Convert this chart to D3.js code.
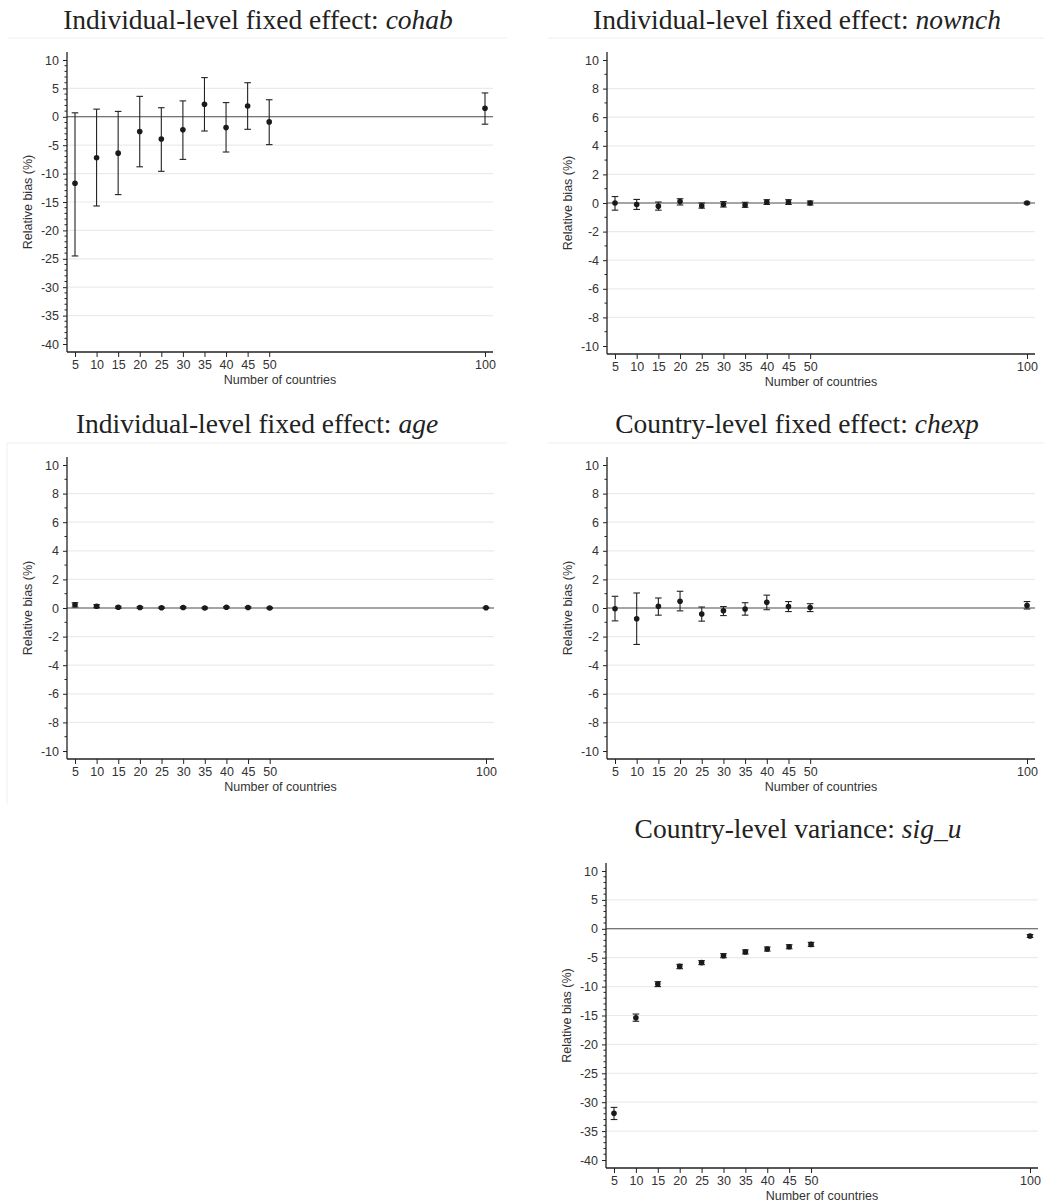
<!DOCTYPE html>
<html>
<head>
<meta charset="utf-8">
<script src="https://cdn.jsdelivr.net/npm/d3@7"></script>
<style>
  body { margin: 0; background: #fff; }
  svg { display: block; }
</style>
</head>
<body>
<div id="chart"></div>
<script>
// number of countries (x values)
const countries = [5, 10, 15, 20, 25, 30, 35, 40, 45, 50, 100];

// relative bias (%) estimates with lower / upper bounds
const cohabEst = [-11.7, -7.2, -6.4, -2.6, -3.9, -2.3, 2.2, -1.9, 1.9, -0.9, 1.5];
const cohabLo  = [-24.5, -15.7, -13.7, -8.8, -9.6, -7.5, -2.5, -6.2, -2.2, -4.9, -1.3];
const cohabHi  = [0.7, 1.35, 0.95, 3.6, 1.6, 2.8, 6.9, 2.5, 6.0, 3.0, 4.2];

const nownchEst = [0.0, -0.1, -0.22, 0.1, -0.2, -0.1, -0.14, 0.07, 0.07, 0.0, 0.0];
const nownchLo  = [-0.5, -0.45, -0.5, -0.14, -0.36, -0.28, -0.3, -0.1, -0.1, -0.14, -0.07];
const nownchHi  = [0.45, 0.25, 0.07, 0.3, 0.0, 0.1, 0.05, 0.23, 0.23, 0.14, 0.07];

const ageEst = [0.23, 0.12, 0.05, 0.04, 0.02, 0.04, 0.0, 0.05, 0.04, 0.0, 0.02];
const ageLo  = [0.07, 0.02, -0.02, -0.02, -0.03, -0.01, -0.05, 0.0, -0.01, -0.04, -0.01];
const ageHi  = [0.37, 0.23, 0.12, 0.1, 0.07, 0.09, 0.05, 0.1, 0.09, 0.04, 0.05];

const chexpEst = [-0.05, -0.75, 0.12, 0.47, -0.42, -0.2, -0.07, 0.4, 0.1, 0.03, 0.18];
const chexpLo  = [-0.9, -2.55, -0.5, -0.2, -0.92, -0.53, -0.5, -0.12, -0.25, -0.25, -0.07];
const chexpHi  = [0.82, 1.05, 0.7, 1.17, 0.07, 0.1, 0.37, 0.9, 0.45, 0.3, 0.45];

const siguEst = [-31.9, -15.4, -9.55, -6.5, -5.85, -4.65, -4.0, -3.5, -3.1, -2.7, -1.25];
const siguLo  = [-33.0, -16.0, -10.0, -6.9, -6.2, -5.0, -4.35, -3.85, -3.45, -3.05, -1.5];
const siguHi  = [-30.9, -14.75, -9.15, -6.15, -5.5, -4.3, -3.65, -3.15, -2.75, -2.35, -1.0];

const wideTicks = [-40, -35, -30, -25, -20, -15, -10, -5, 0, 5, 10];
const narrowTicks = [-10, -8, -6, -4, -2, 0, 2, 4, 6, 8, 10];

const width = 1044, height = 1203;

const panels = [
  { lead: 'Individual-level fixed effect: ', name: 'cohab', est: cohabEst, lo: cohabLo, hi: cohabHi,
    ticks: wideTicks, box: [67, 493, 52, 352], titleX: 258, titleY: 29, rule: [8, 507, 38] },
  { lead: 'Individual-level fixed effect: ', name: 'nownch', est: nownchEst, lo: nownchLo, hi: nownchHi,
    ticks: narrowTicks, box: [607, 1035, 52, 354], titleX: 797, titleY: 29, rule: [548, 1044, 38] },
  { lead: 'Individual-level fixed effect: ', name: 'age', est: ageEst, lo: ageLo, hi: ageHi,
    ticks: narrowTicks, box: [67, 494, 457, 759], titleX: 257, titleY: 433, rule: [7, 507, 443], leftRule: true },
  { lead: 'Country-level fixed effect: ', name: 'chexp', est: chexpEst, lo: chexpLo, hi: chexpHi,
    ticks: narrowTicks, box: [607, 1035, 457, 759], titleX: 797, titleY: 433, rule: [548, 1044, 443] },
  { lead: 'Country-level variance: ', name: 'sig_u', est: siguEst, lo: siguLo, hi: siguHi,
    ticks: wideTicks, box: [606, 1038, 863, 1168], titleX: 798, titleY: 838 }
];

const svg = d3.select('#chart').append('svg')
  .attr('width', width)
  .attr('height', height);

const ink = '#222';
const sans = 'Liberation Sans, Arial, sans-serif';

panels.forEach(p => {
  const [x0, x1, y0, y1] = p.box;
  const pad = 8;

  const x = d3.scaleLinear().domain([5, 100]).range([x0 + pad, x1 - pad]);
  const y = d3.scaleLinear()
    .domain([d3.min(p.ticks), d3.max(p.ticks)])
    .range([y1 - pad, y0 + pad]);
  const step = p.ticks[1] - p.ticks[0];

  const g = svg.append('g');

  // faint region rule under the title
  if (p.rule) {
    g.append('line')
      .attr('x1', p.rule[0]).attr('x2', p.rule[1])
      .attr('y1', p.rule[2]).attr('y2', p.rule[2])
      .attr('stroke', '#eeeeee');
    if (p.leftRule) {
      g.append('line')
        .attr('x1', p.rule[0]).attr('x2', p.rule[0])
        .attr('y1', p.rule[2]).attr('y2', y1 + 45)
        .attr('stroke', '#f0f0f0');
    }
  }

  // title
  const t = g.append('text')
    .attr('x', p.titleX).attr('y', p.titleY)
    .attr('text-anchor', 'middle')
    .style('font-family', 'Liberation Serif, Times New Roman, serif')
    .style('font-size', '27.5px')
    .attr('fill', ink);
  t.append('tspan').text(p.lead);
  t.append('tspan').style('font-style', 'italic').text(p.name);

  // gridlines (skip extremes and zero)
  const lo = d3.min(p.ticks), hi = d3.max(p.ticks);
  g.append('g').selectAll('line')
    .data(p.ticks.filter(v => v !== lo && v !== hi && v !== 0))
    .enter().append('line')
    .attr('x1', x0).attr('x2', x1)
    .attr('y1', d => y(d)).attr('y2', d => y(d))
    .attr('stroke', '#ebebeb')
    .attr('stroke-width', 1.2);

  // zero reference line
  g.append('line')
    .attr('x1', x0).attr('x2', x1)
    .attr('y1', y(0)).attr('y2', y(0))
    .attr('stroke', '#4a4a4a')
    .attr('stroke-width', 1.1);

  // minor y ticks
  const minor = d3.range(lo, hi + 0.001, 1).filter(v => (v - lo) % step !== 0);
  g.append('g').selectAll('line')
    .data(minor)
    .enter().append('line')
    .attr('x1', x0 - 2.5).attr('x2', x0)
    .attr('y1', d => y(d)).attr('y2', d => y(d))
    .attr('stroke', ink);

  // plain hyphen-minus labels, as in the original
  const fmt = d => String(d);

  // y axis
  const yAxis = g.append('g')
    .attr('transform', 'translate(' + x0 + ',0)')
    .call(d3.axisLeft(y).tickValues(p.ticks).tickSize(4).tickPadding(4).tickFormat(fmt));
  yAxis.select('.domain').attr('d', 'M0,' + y0 + 'V' + y1);

  // x axis
  const xAxis = g.append('g')
    .attr('transform', 'translate(0,' + y1 + ')')
    .call(d3.axisBottom(x).tickValues(countries).tickSize(5).tickPadding(3).tickFormat(fmt));
  xAxis.select('.domain').attr('d', 'M' + x0 + ',0H' + x1);

  [yAxis, xAxis].forEach(a => {
    a.select('.domain').attr('stroke', ink).attr('stroke-width', 1.3);
    a.selectAll('.tick line').attr('stroke', ink);
    a.selectAll('.tick text')
      .style('font-family', sans)
      .style('font-size', '12.5px')
      .attr('fill', '#333');
  });

  // axis titles
  g.append('text')
    .attr('transform', 'translate(' + (x0 - 35) + ',' + ((y0 + y1) / 2) + ') rotate(-90)')
    .attr('text-anchor', 'middle')
    .style('font-family', sans)
    .style('font-size', '12.5px')
    .attr('fill', '#333')
    .text('Relative bias (%)');

  g.append('text')
    .attr('x', (x0 + x1) / 2).attr('y', y1 + 32)
    .attr('text-anchor', 'middle')
    .style('font-family', sans)
    .style('font-size', '12.5px')
    .attr('fill', '#333')
    .text('Number of countries');

  // error bars
  const rows = countries.map((c, i) => ({ c: c, est: p.est[i], lo: p.lo[i], hi: p.hi[i] }));
  const bars = g.append('g').selectAll('g')
    .data(rows)
    .enter().append('g')
    .attr('stroke', ink)
    .attr('stroke-width', 1.1);
  bars.append('line')
    .attr('x1', d => x(d.c)).attr('x2', d => x(d.c))
    .attr('y1', d => y(d.lo)).attr('y2', d => y(d.hi));
  bars.append('line')
    .attr('x1', d => x(d.c) - 3.3).attr('x2', d => x(d.c) + 3.3)
    .attr('y1', d => y(d.hi)).attr('y2', d => y(d.hi));
  bars.append('line')
    .attr('x1', d => x(d.c) - 3.3).attr('x2', d => x(d.c) + 3.3)
    .attr('y1', d => y(d.lo)).attr('y2', d => y(d.lo));

  g.append('g').selectAll('circle')
    .data(rows)
    .enter().append('circle')
    .attr('cx', d => x(d.c))
    .attr('cy', d => y(d.est))
    .attr('r', 2.8)
    .attr('fill', '#1a1a1a');
});
</script>
</body>
</html>
